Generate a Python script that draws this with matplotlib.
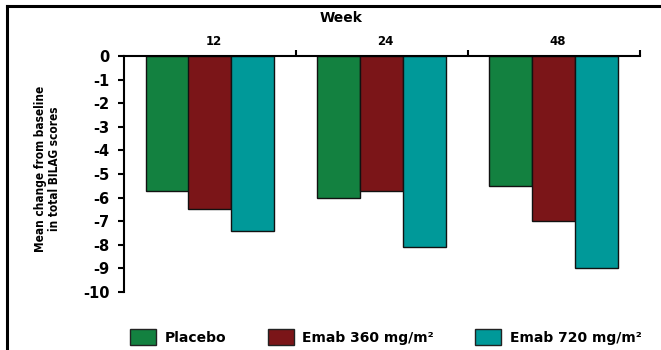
import matplotlib
matplotlib.use("Agg")
import matplotlib.pyplot as plt
from matplotlib.lines import Line2D
from matplotlib.patches import Patch
import numpy as np

# data
weeks = ["12", "24", "48"]
placebo = [-5.7, -6.0, -5.5]
emab360 = [-6.5, -5.7, -7.0]
emab720 = [-7.4, -8.1, -9.0]
series_names = ["Placebo", "Emab 360 mg/m\u00b2", "Emab 720 mg/m\u00b2"]
colors = ["#138140", "#7b1518", "#009999"]
yticks = list(range(0, -11, -1))

plt.rcParams['font.family'] = ['DejaVu Sans']

fig = plt.figure(figsize=(6.61, 3.50), dpi=100)
ax = fig.add_axes([124/661, 1-292/350, (640-124)/661, (292-56)/350])

x = np.arange(len(weeks)) + 0.5
w = 0.25
for i, vals in enumerate([placebo, emab360, emab720]):
    ax.bar(x + (i-1)*w, vals, w, color=colors[i], edgecolor="#111111", linewidth=1.0)

ax.set_xlim(0, 3)
ax.set_ylim(-10, 0)
ax.set_yticks(yticks)
ax.set_yticklabels([str(t) for t in yticks], fontsize=10.5, fontweight="bold")
ax.tick_params(axis="y", direction="out", length=4.3, width=1.5, pad=6)

# x axis along the top, ticks at group boundaries
ax.xaxis.set_ticks_position("top")
ax.set_xticks([1, 2, 3])
ax.set_xticklabels([])
ax.tick_params(axis="x", direction="out", length=4, width=1.5)
for xi, lab in zip(x, weeks):
    ax.text(xi + 0.02, 1.035, lab, transform=ax.get_xaxis_transform(), ha="center", va="bottom",
            fontsize=8.5, fontweight="bold")

ax.spines["right"].set_visible(False)
ax.spines["bottom"].set_visible(False)
ax.spines["left"].set_linewidth(1.5)
ax.spines["top"].set_linewidth(1.5)

fig.text(341/661, 1-18/350, "Week", ha="center", va="center", fontsize=10, fontweight="bold")
fig.text(48/661, 1-169/350, "Mean change from baseline\nin total BILAG scores", rotation=90,
         ha="center", va="center", fontsize=8.5, fontweight="bold", fontstretch="condensed",
         family=["DejaVu Sans"], linespacing=1.1)

# outer frame lines (top and left)
fig.add_artist(Line2D([7/661, 1], [1-6/350, 1-6/350], color="black", lw=2.2, transform=fig.transFigure))
fig.add_artist(Line2D([7/661, 7/661], [0, 1-6/350], color="black", lw=2.2, transform=fig.transFigure))

handles = [Patch(facecolor=c, edgecolor="#222222", linewidth=1.0) for c in colors]
fig.legend(handles, series_names, ncol=3, loc="center left", bbox_to_anchor=(130/661, 1-337/350),
           frameon=False, handlelength=1.87, handleheight=1.5, handletextpad=0.6,
           columnspacing=3.0, prop={"size": 10, "weight": "bold"}, borderaxespad=0,
           borderpad=0)

fig.savefig("out.png", dpi=100)
